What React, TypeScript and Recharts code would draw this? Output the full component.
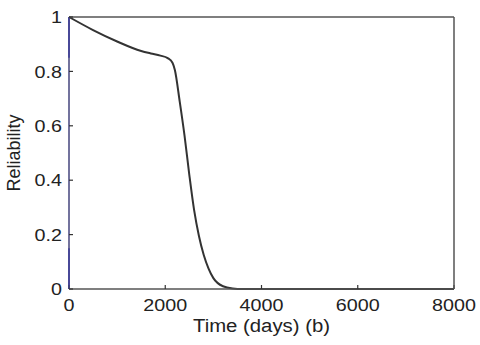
import React from "react";
import { LineChart, Line, XAxis, YAxis, ReferenceLine, Label } from "recharts";

const timeDays = [0, 500, 1000, 1500, 1700, 1900, 2050, 2150, 2200, 2300, 2400, 2500, 2600, 2700, 2800, 2900, 3000, 3200, 3400, 3600, 4000, 6000, 8000];
const reliability = [1, 0.952, 0.91, 0.875, 0.866, 0.858, 0.849, 0.832, 0.805, 0.69, 0.565, 0.42, 0.29, 0.195, 0.125, 0.075, 0.04, 0.01, 0.002, 0, 0, 0, 0];
const xTicks = [0, 2000, 4000, 6000, 8000];
const yTicks = [0, 0.2, 0.4, 0.6, 0.8, 1];
const yTickLabels = ["0", "0.2", "0.4", "0.6", "0.8", "1"];

const data = timeDays.map((t, i) => ({ t, r: reliability[i] }));

const FONT = "'Liberation Sans', Arial, sans-serif";
const TEXT = "#222";
const SPINE = "#555";

const XTick = (props: any) => {
  const { x, y, payload } = props;
  return (
    <g transform={`translate(${x},${y})`}>
      <text transform="scale(1.16,1)" textAnchor="middle" y={12} fontSize={17} fontFamily={FONT} fill={TEXT}>
        {String(payload.value)}
      </text>
    </g>
  );
};

const YTick = (props: any) => {
  const { x, y, payload } = props;
  const idx = yTicks.indexOf(payload.value);
  const label = idx >= 0 ? yTickLabels[idx] : String(payload.value);
  return (
    <g transform={`translate(${x},${y})`}>
      <text transform="scale(1.16,1)" textAnchor="end" dy="0.36em" fontSize={17} fontFamily={FONT} fill={TEXT}>
        {label}
      </text>
    </g>
  );
};

const XLabel = (props: any) => {
  const { viewBox } = props;
  const cx = viewBox.x + viewBox.width / 2;
  const by = viewBox.y + 43;
  return (
    <g transform={`translate(${cx},${by})`}>
      <text transform="scale(1.13,1)" textAnchor="middle" fontSize={18} fontFamily={FONT} fill={TEXT}>
        Time (days) (b)
      </text>
    </g>
  );
};

const YLabel = (props: any) => {
  const { viewBox } = props;
  const cy = viewBox.y + viewBox.height / 2;
  return (
    <text
      transform={`translate(20,${cy}) rotate(-90)`}
      textAnchor="middle"
      fontSize={18}
      fontFamily={FONT}
      fill={TEXT}
    >
      Reliability
    </text>
  );
};

export default function App() {
  return (
    <div style={{ position: "absolute", left: 0, top: 0, width: 480, height: 345, background: "#fff" }}>
      <LineChart width={480} height={345} data={data} margin={{ top: 16, right: 25, bottom: 0, left: 0 }}>
        <XAxis
          xAxisId="b"
          dataKey="t"
          type="number"
          domain={[0, 8000]}
          ticks={xTicks}
          height={56}
          axisLine={{ stroke: SPINE, strokeWidth: 1.5 }}
          tickLine={{ stroke: "#333", strokeWidth: 1.2 }}
          tickSize={-4}
          tickMargin={14}
          tick={<XTick />}
          interval={0}
        >
          <Label content={<XLabel />} />
        </XAxis>
        <XAxis
          xAxisId="top"
          dataKey="t"
          type="number"
          orientation="top"
          domain={[0, 8000]}
          ticks={xTicks}
          height={1}
          axisLine={{ stroke: SPINE, strokeWidth: 1.5 }}
          tickLine={{ stroke: "#333", strokeWidth: 1.2 }}
          tickSize={-4}
          tick={false}
          interval={0}
        />
        <YAxis
          yAxisId="l"
          type="number"
          domain={[0, 1]}
          ticks={yTicks}
          width={69}
          axisLine={{ stroke: "#45457d", strokeWidth: 1.5 }}
          tickLine={{ stroke: "#333", strokeWidth: 1.2 }}
          tickSize={-4}
          tickMargin={11}
          tick={<YTick />}
          interval={0}
        >
          <Label content={<YLabel />} />
        </YAxis>
        <YAxis
          yAxisId="r"
          type="number"
          orientation="right"
          domain={[0, 1]}
          ticks={yTicks}
          width={1}
          axisLine={{ stroke: SPINE, strokeWidth: 1.5 }}
          tickLine={{ stroke: "#333", strokeWidth: 1.2 }}
          tickSize={-4}
          tick={false}
          interval={0}
        />
        <ReferenceLine
          xAxisId="b"
          yAxisId="l"
          segment={[{ x: 0, y: 0.85 }, { x: 0, y: 1 }]}
          stroke="#2a2ae6"
          strokeWidth={1.6}
          ifOverflow="visible"
        />
        <ReferenceLine
          xAxisId="b"
          yAxisId="l"
          segment={[{ x: 0, y: 0 }, { x: 0, y: 0.15 }]}
          stroke="#2a2ae6"
          strokeWidth={1.6}
          ifOverflow="visible"
        />
        <Line
          xAxisId="b"
          yAxisId="l"
          type="monotone"
          dataKey="r"
          stroke="#333"
          strokeWidth={2}
          dot={false}
          isAnimationActive={false}
        />
      </LineChart>
    </div>
  );
}
